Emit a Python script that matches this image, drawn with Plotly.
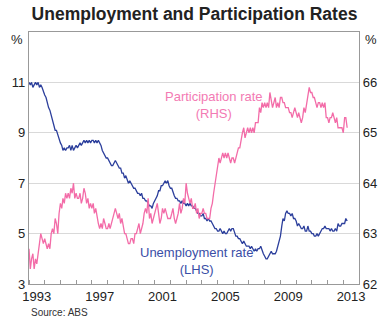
import pandas as pd
import plotly.graph_objects as go

# ---- data (monthly, Jan 1993 onwards) ----
start_month = "1993-01-01"
unemployment = [
    11.0, 10.9, 11.0, 10.8, 10.9, 11.0, 10.9, 11.0, 10.8, 10.9, 10.8, 10.6,  # 1993
    10.5, 10.4, 10.2, 10.0, 9.9, 9.7, 9.5, 9.3, 9.1, 9.1, 8.9, 8.8,          # 1994
    8.6, 8.5, 8.3, 8.4, 8.3, 8.4, 8.4, 8.5, 8.3, 8.5, 8.3, 8.4,              # 1995
    8.5, 8.4, 8.5, 8.6, 8.5, 8.6, 8.7, 8.6, 8.7, 8.6, 8.7, 8.6,              # 1996
    8.7, 8.7, 8.6, 8.7, 8.6, 8.7, 8.6, 8.5, 8.3, 8.2, 8.1, 8.0,              # 1997
    8.0, 7.9, 7.8, 7.7, 7.7, 7.8, 7.9, 7.8, 7.7, 7.6, 7.6, 7.4,              # 1998
    7.4, 7.2, 7.3, 7.1, 7.0, 7.1, 7.0, 6.9, 6.8, 6.8, 6.7, 6.6,              # 1999
    6.6, 6.5, 6.6, 6.4, 6.4, 6.3, 6.3, 6.2, 6.1, 6.1, 6.0, 6.2,              # 2000
    6.3, 6.4, 6.5, 6.7, 6.7, 6.9, 6.9, 7.0, 7.1, 7.0, 7.1, 6.9,              # 2001
    6.8, 6.8, 6.6, 6.5, 6.4, 6.4, 6.3, 6.3, 6.2, 6.3, 6.2, 6.2,              # 2002
    6.1, 6.2, 6.1, 6.2, 6.1, 6.1, 6.0, 6.0, 5.9, 5.8, 5.8, 5.7,              # 2003
    5.7, 5.8, 5.6, 5.6, 5.5, 5.6, 5.5, 5.5, 5.4, 5.3, 5.2, 5.2,              # 2004
    5.1, 5.1, 5.2, 5.1, 5.0, 5.1, 5.0, 5.0, 5.1, 5.2, 5.1, 5.2,              # 2005
    5.2, 5.0, 4.9, 4.9, 4.8, 4.8, 4.7, 4.6, 4.7, 4.6, 4.5, 4.5,              # 2006
    4.5, 4.4, 4.5, 4.4, 4.3, 4.4, 4.3, 4.4, 4.4, 4.5, 4.3, 4.2,              # 2007
    4.1, 4.0, 4.0, 4.1, 4.2, 4.3, 4.2, 4.2, 4.2, 4.3, 4.5, 4.6,              # 2008
    4.9, 5.3, 5.6, 5.5, 5.8, 5.9, 5.8, 5.8, 5.7, 5.8, 5.6, 5.6,              # 2009
    5.5, 5.3, 5.4, 5.3, 5.2, 5.2, 5.3, 5.1, 5.1, 5.3, 5.1, 5.1,              # 2010
    5.0, 5.0, 4.9, 4.9, 5.0, 4.9, 5.0, 5.1, 5.2, 5.2, 5.3, 5.2,              # 2011
    5.2, 5.2, 5.1, 5.2, 5.1, 5.1, 5.2, 5.1, 5.4, 5.3, 5.3, 5.4,              # 2012
    5.4, 5.4, 5.6, 5.5,                                                      # 2013
]
participation = [
    62.7, 62.3, 62.5, 62.6, 62.3, 62.5, 62.4, 62.6, 62.8, 63.0, 62.9, 62.8,  # 1993
    62.9, 62.8, 62.7, 62.8, 62.7, 63.0, 63.1, 63.0, 63.3, 63.2, 63.0, 63.4,  # 1994
    63.6, 63.5, 63.7, 63.6, 63.8, 63.7, 63.8, 63.7, 63.9, 63.8, 64.0, 63.7,  # 1995
    63.8, 63.7, 63.7, 63.8, 63.6, 63.7, 63.9, 63.8, 63.6, 63.7, 63.5, 63.6,  # 1996
    63.5, 63.6, 63.4, 63.5, 63.3, 63.2, 63.1, 63.2, 63.1, 63.3, 63.2, 63.1,  # 1997
    63.1, 63.2, 63.1, 63.2, 63.3, 63.4, 63.5, 63.4, 63.3, 63.4, 63.2, 63.3,  # 1998
    63.1, 63.0, 63.0, 62.9, 62.8, 62.8, 62.9, 62.9, 62.8, 63.0, 63.0, 63.1,  # 1999
    63.2, 63.0, 63.1, 63.2, 63.4, 63.5, 63.4, 63.7, 63.3, 63.4, 63.2, 63.3,  # 2000
    63.4, 63.5, 63.6, 63.4, 63.2, 63.3, 63.5, 63.4, 63.5, 63.4, 63.3, 63.3,  # 2001
    63.3, 63.4, 63.5, 63.3, 63.2, 63.3, 63.4, 63.6, 63.4, 63.5, 63.7, 63.6,  # 2002
    64.0, 63.8, 63.7, 63.6, 63.7, 63.5, 63.5, 63.6, 63.4, 63.5, 63.3, 63.4,  # 2003
    63.4, 63.5, 63.4, 63.4, 63.3, 63.3, 63.3, 63.5, 63.6, 63.8, 64.0, 64.1,  # 2004
    64.3, 64.5, 64.4, 64.5, 64.6, 64.5, 64.6, 64.5, 64.6, 64.5, 64.4, 64.5,  # 2005
    64.5, 64.4, 64.5, 64.6, 64.7, 64.7, 64.9, 65.0, 65.1, 64.9, 65.0, 65.1,  # 2006
    65.0, 65.1, 65.0, 65.1, 65.0, 65.2, 65.2, 65.2, 65.5, 65.4, 65.6, 65.5,  # 2007
    65.6, 65.5, 65.6, 65.5, 65.8, 65.6, 65.5, 65.6, 65.7, 65.5, 65.6, 65.5,  # 2008
    65.7, 65.7, 65.6, 65.6, 65.5, 65.5, 65.5, 65.4, 65.4, 65.3, 65.4, 65.5,  # 2009
    65.4, 65.3, 65.4, 65.3, 65.2, 65.3, 65.5, 65.4, 65.6, 65.7, 65.9, 65.8,  # 2010
    65.8, 65.7, 65.7, 65.6, 65.5, 65.6, 65.6, 65.5, 65.6, 65.5, 65.6, 65.3,  # 2011
    65.3, 65.2, 65.3, 65.3, 65.4, 65.3, 65.2, 65.3, 65.1, 65.1, 65.1, 65.1,  # 2012
    65.0, 65.3, 65.3, 65.1,                                                  # 2013
]
label_years = [1993, 1997, 2001, 2005, 2009, 2013]
left_ticks = [3, 5, 7, 9, 11]
right_ticks = [62, 63, 64, 65, 66]

dates = pd.date_range(start_month, periods=len(unemployment), freq="MS")

BLUE = "#2c3f9c"
PINK = "#f36ca8"
GREY = "#999999"
FONT = "Arial, Liberation Sans, sans-serif"

fig = go.Figure()
fig.add_trace(go.Scatter(x=dates, y=unemployment, mode="lines",
                         line=dict(color=BLUE, width=1.3), yaxis="y", showlegend=False))
fig.add_trace(go.Scatter(x=dates, y=participation, mode="lines",
                         line=dict(color=PINK, width=1.3), yaxis="y2", showlegend=False))

year_starts = [f"{y}-01-01" for y in range(1993, 2015)]
fig.update_layout(
    width=389, height=325,
    margin=dict(l=22, r=23, t=32, b=41),
    paper_bgcolor="white", plot_bgcolor="white",
    font=dict(family=FONT, size=13, color="#222222"),
    title=dict(text="<b>Unemployment and Participation Rates</b>", x=0.5, xanchor="center",
               y=1 - 14 / 325, yanchor="middle", font=dict(size=17.5, color="#222222")),
    xaxis=dict(type="date", range=["1993-01-01", "2014-01-01"],
               tickmode="array", tickvals=[f"{y}-07-01" for y in label_years],
               ticktext=[str(y) for y in label_years], ticks="",
               minor=dict(tickmode="array", tickvals=year_starts, ticks="inside",
                          ticklen=4, tickcolor=GREY, tickwidth=1, showgrid=False),
               showgrid=False, zeroline=False, showline=True, linecolor=GREY,
               linewidth=1.3, mirror=True),
    yaxis=dict(range=[3, 13], tickmode="array", tickvals=left_ticks, ticks="",
               showgrid=True, gridcolor="#d9d9d9", gridwidth=1, zeroline=False,
               showline=True, linecolor=GREY, linewidth=1.3, mirror=True),
    yaxis2=dict(range=[62, 67], tickmode="array", tickvals=right_ticks, ticks="",
                overlaying="y", side="right", showgrid=False, zeroline=False,
                showline=True, linecolor=GREY, linewidth=1.3),
)

ann = [
    dict(text="%", xref="paper", yref="paper", x=0, y=1, xanchor="right", yanchor="top",
         xshift=-4, yshift=2, showarrow=False, font=dict(size=13)),
    dict(text="%", xref="paper", yref="paper", x=1, y=1, xanchor="left", yanchor="top",
         xshift=4, yshift=2, showarrow=False, font=dict(size=13)),
    dict(text="Participation rate<br>(RHS)", x="2004-10-10", y=65.55, yref="y2",
         showarrow=False, font=dict(size=13, color="#f37ab3")),
    dict(text="Unemployment rate<br>(LHS)", x="2003-09-01", y=3.91, yref="y",
         showarrow=False, font=dict(size=13, color="#3a4ea6")),
    dict(text="Source: ABS", xref="paper", yref="paper", x=0, y=-28 / 252, xanchor="left",
         yanchor="middle", showarrow=False, font=dict(size=10, color="#333333")),
]
fig.update_layout(annotations=ann)

fig.write_html("out.html")
